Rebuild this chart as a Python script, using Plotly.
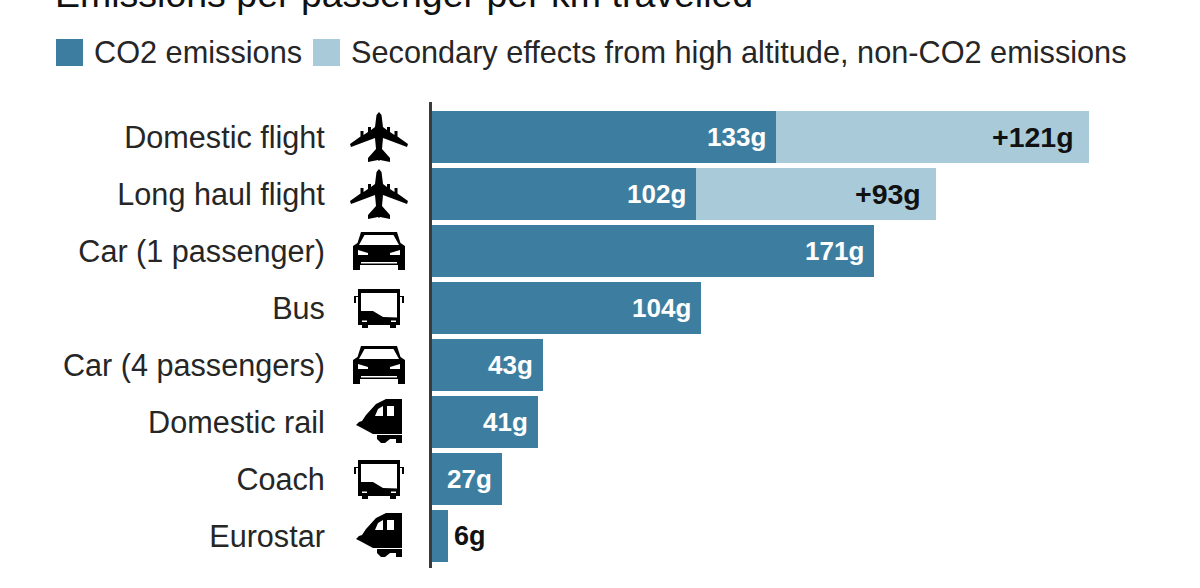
import plotly.graph_objects as go

categories = ["Domestic flight", "Long haul flight", "Car (1 passenger)", "Bus",
              "Car (4 passengers)", "Domestic rail", "Coach", "Eurostar"]
co2_values = [133, 102, 171, 104, 43, 41, 27, 6]
secondary_values = [121, 93, 0, 0, 0, 0, 0, 0]
icon_names = ["plane", "plane", "car", "bus", "car", "train", "bus", "train"]
co2_name = "CO2 emissions"
secondary_name = "Secondary effects from high altitude, non-CO2 emissions"
title_text = "Emissions per passenger per km travelled"

W, H = 1200, 588
L, R, T, B = 432, 0, 102, 20
DARK, LIGHT, INK = "#3d7ea0", "#a9cbd9", "#262626"
FONT = "Liberation Sans"


def px(x):
    return (x - L) / (W - L - R)


def py(y):
    return 1 - (y - T) / (H - T - B)


def poly(points):
    return "M" + " L".join(f"{x} {-y}" for x, y in points) + " Z"


half_plane = [(0, -25), (2.5, -22), (4, -10), (8, -7), (8, -10), (11, -10), (11, -5),
              (15.5, -2), (15.5, -6), (18.5, -6), (18.5, -0.5), (29, 7), (28, 10), (4, 1),
              (3, 12), (11, 21), (11, 25), (1, 23), (0, 24)]
plane = poly(half_plane + [(-x, y) for x, y in reversed(half_plane[1:-1])])
car = " ".join([
    poly([(-18, -19), (18, -19), (21.5, -8), (26, -5), (26, 19), (19, 19), (19, 14), (-19, 14),
          (-19, 19), (-26, 19), (-26, -5), (-21.5, -8)]),
    poly([(-14.5, -16), (14.5, -16), (20, -6), (-20, -6)]),
    poly([(-21, -1), (-11, 2), (-11, 4), (-21, 4)]),
    poly([(21, -1), (11, 2), (11, 4), (21, 4)]),
    poly([(-18, 11), (18, 11), (18, 12.5), (-18, 12.5)]),
])
bus = " ".join([
    poly([(-21, -19), (21, -19), (21, 17), (17, 17), (17, 20), (11, 20), (11, 17), (-11, 17),
          (-11, 20), (-17, 20), (-17, 17), (-21, 17)]),
    poly([(-18, -15), (18, -15), (18, 9.5), (4, 9), (-6, 3), (-18, 3)]),
    poly([(12, 12.5), (17, 12.5), (17, 14), (12, 14)]),
    poly([(-17, 12.5), (-12, 12.5), (-12, 14), (-17, 14)]),
    poly([(-21, -12), (-21, -11), (-23, -11), (-23, -5), (-25, -5), (-25, -12)]),
    poly([(21, -12), (25, -12), (25, -5), (23, -5), (23, -11), (21, -11)]),
])
train = " ".join([
    poly([(23, -23), (7, -23), (-3, -18), (-13, -7), (-17, -1), (-20, 0), (-23, 3), (-19, 5),
          (-6, 12), (23, 12)]),
    poly([(-4, -6), (4, -6), (4, -16), (-1, -13)]),
    poly([(8, -16), (15, -16), (15, -6), (8, -6)]),
    poly([(-2, 13), (23, 13), (23, 21), (17, 21), (17, 17), (11, 17), (6, 21), (2, 21), (-2, 17)]),
])
icons = {"plane": plane, "car": car, "bus": bus, "train": train}

fig = go.Figure()
fig.add_bar(y=categories, x=co2_values, orientation="h", name=co2_name,
            marker=dict(color=DARK, line_width=0), hoverinfo="x+y")
fig.add_bar(y=categories, x=secondary_values, orientation="h", name=secondary_name,
            marker=dict(color=LIGHT, line_width=0), hoverinfo="x+y")

shapes = []
for i, name in enumerate(icon_names):
    shapes.append(dict(type="path", path=icons[name], xsizemode="pixel", ysizemode="pixel",
                       xref="paper", xanchor=px(379), yref="y", yanchor=categories[i],
                       fillcolor="#000000", line_width=0, fillrule="evenodd", layer="above"))
for x0, color in ((56, DARK), (313, LIGHT)):
    shapes.append(dict(type="rect", xref="paper", yref="paper", x0=px(x0), x1=px(x0 + 27),
                       y0=py(66), y1=py(39), fillcolor=color, line_width=0))

annotations = [
    dict(text=title_text, xref="paper", yref="paper", x=px(53), y=py(-6), xanchor="left",
         yanchor="middle", showarrow=False, font=dict(family=FONT, size=37.5, color="#111111")),
    dict(text=co2_name, xref="paper", yref="paper", x=px(92), y=py(53), xanchor="left",
         yanchor="middle", showarrow=False, font=dict(family=FONT, size=30.7, color=INK)),
    dict(text=secondary_name, xref="paper", yref="paper", x=px(349), y=py(53), xanchor="left",
         yanchor="middle", showarrow=False, font=dict(family=FONT, size=30.7, color=INK)),
]
for cat, co2, sec in zip(categories, co2_values, secondary_values):
    outside = co2 < 10
    annotations.append(dict(
        text=f"<b>{co2}g</b>", x=co2, y=cat, xanchor="left" if outside else "right",
        xshift=4 if outside else -8, showarrow=False,
        font=dict(family=FONT, size=27 if outside else 26,
                  color="#111111" if outside else "#ffffff")))
    if sec:
        annotations.append(dict(
            text=f"<b>+{sec}g</b>", x=co2 + sec, y=cat, xanchor="right", xshift=-13,
            showarrow=False, font=dict(family=FONT, size=28.5, color="#111111")))

fig.update_layout(
    width=W, height=H, autosize=False, barmode="stack", bargap=5 / 57, showlegend=False,
    margin=dict(l=L, r=R, t=T, b=B, pad=0), plot_bgcolor="white", paper_bgcolor="white",
    font=dict(family=FONT, color=INK), shapes=shapes, annotations=annotations,
    xaxis=dict(range=[0, (W - L - R) / 2.586], visible=False, fixedrange=True),
    yaxis=dict(type="category", categoryorder="array", categoryarray=categories,
               range=[7.561, -0.614], showline=True, linecolor="#3a3a3a", linewidth=3,
               showgrid=False, zeroline=False, ticks="outside", ticklen=98,
               tickcolor="rgba(0,0,0,0)", tickfont=dict(family=FONT, size=30.6, color=INK),
               fixedrange=True),
)
fig.write_html("out.html", config={"displayModeBar": False},
               post_script="document.body.style.margin='0';document.body.style.overflow='hidden';")
